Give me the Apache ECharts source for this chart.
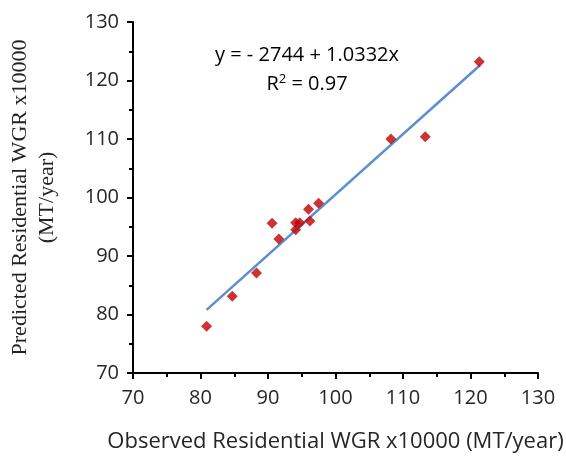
<!DOCTYPE html>
<html>
<head>
<meta charset="utf-8">
<script src="https://cdn.jsdelivr.net/npm/echarts@6/dist/echarts.min.js"></script>
<style>
    html, body { margin: 0; padding: 0; background: #fff; }
    #main { width: 566px; height: 456px; }
</style>
</head>
<body>
<div id="main"></div>
<script>
    // observed vs predicted (x10000 MT/year)
    var observed = [80.9, 84.7, 88.3, 90.6, 91.6, 94.1, 94.1, 94.7, 96.0, 96.2, 97.5, 108.2, 113.3, 121.3];
    var predicted = [78.0, 83.1, 87.1, 95.6, 92.9, 95.7, 94.5, 95.7, 98.0, 96.0, 99.0, 110.0, 110.4, 123.2];
    // trend line end points as drawn
    var trendX = [80.9, 121.4];
    var trendY = [80.8, 122.6];
    var eqText = 'y = - 2744 + 1.0332x';
    var r2Text = '0.97';

    var points = observed.map(function (x, i) { return [x, predicted[i]]; });
    var trend = trendX.map(function (x, i) { return [x, trendY[i]]; });

    var sans = '"Open Sans", sans-serif';
    var serif = '"Liberation Serif", serif';

    var my_chart = echarts.init(document.getElementById('main'), null, { renderer: 'canvas' });
    var option = {
        animation: false,
        grid: { left: 133, right: 28, top: 22, bottom: 83, outerBoundsMode: 'none', containLabel: false },
        xAxis: {
            type: 'value',
            min: 70, max: 130, interval: 10,
            name: 'Observed Residential WGR x10000 (MT/year)',
            nameLocation: 'middle',
            nameGap: 58,
            nameTextStyle: { fontFamily: sans, fontSize: 22, color: '#262626' },
            axisLine: { show: true, onZero: false, lineStyle: { color: '#000', width: 2 } },
            axisTick: { show: true, length: 6, lineStyle: { color: '#000', width: 2 } },
            minorTick: { show: true, splitNumber: 2, length: 4, lineStyle: { color: '#000', width: 2 } },
            axisLabel: { fontFamily: sans, fontSize: 20, color: '#262626', margin: 15 },
            splitLine: { show: false }
        },
        yAxis: {
            type: 'value',
            min: 70, max: 130, interval: 10,
            name: 'Predicted Residential WGR x10000\n(MT/year)',
            nameLocation: 'middle',
            nameGap: 72,
            nameRotate: 90,
            nameTextStyle: { fontFamily: serif, fontSize: 22, color: '#222', lineHeight: 27, align: 'center' },
            axisLine: { show: true, onZero: false, lineStyle: { color: '#000', width: 2 } },
            axisTick: { show: true, length: 6, lineStyle: { color: '#000', width: 2 } },
            minorTick: { show: true, splitNumber: 2, length: 4, lineStyle: { color: '#000', width: 2 } },
            axisLabel: { fontFamily: sans, fontSize: 20, color: '#262626', margin: 14 },
            splitLine: { show: false }
        },
        graphic: [
            {
                type: 'text', x: 307, y: 45,
                style: { text: eqText, font: '20px ' + sans, fill: '#000', textAlign: 'center' }
            },
            {
                type: 'text', x: 307, y: 73,
                style: {
                    text: '{b|R}{s|2}{b| = ' + r2Text + '}',
                    textAlign: 'center',
                    rich: {
                        b: { fontFamily: sans, fontSize: 20, color: '#000' },
                        s: { fontFamily: sans, fontSize: 13, color: '#000', verticalAlign: 'top', padding: [0, 0, 9, 0] }
                    }
                }
            }
        ],
        series: [
            {
                type: 'line',
                data: trend,
                symbol: 'none',
                lineStyle: { color: '#5b8fd0', width: 2.5 },
                z: 2
            },
            {
                type: 'scatter',
                data: points,
                symbol: 'diamond',
                symbolSize: 11,
                itemStyle: { color: '#c00000' },
                z: 3
            }
        ]
    };
    my_chart.setOption(option);
</script>
</body>
</html>
